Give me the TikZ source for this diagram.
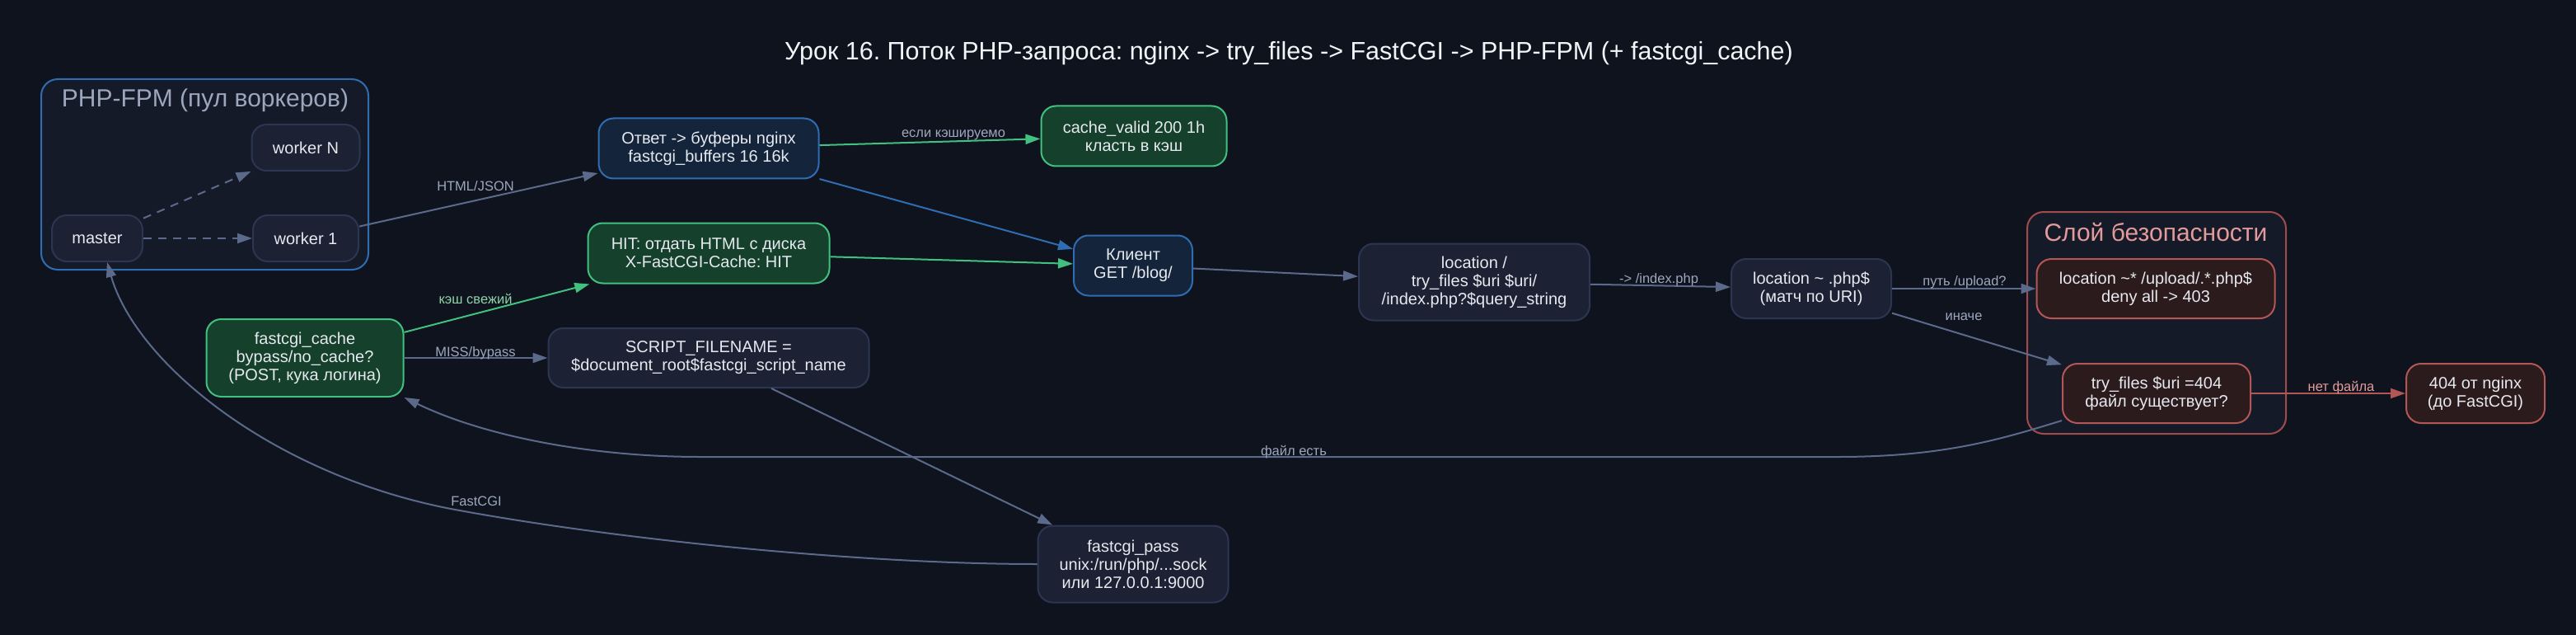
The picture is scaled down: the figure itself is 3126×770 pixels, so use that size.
\documentclass[tikz,border=0pt]{standalone}
\usepackage{fontspec}
\setmainfont{Liberation Sans}
\usetikzlibrary{arrows.meta,calc}
\frenchspacing
\definecolor{bg}{HTML}{0F131E}
\definecolor{clusterfill}{HTML}{151A28}
\definecolor{nodefill}{HTML}{1C2233}
\definecolor{nodeborder}{HTML}{2C3652}
\definecolor{bluefill}{HTML}{13243B}
\definecolor{blueborder}{HTML}{2F6DB3}
\definecolor{greenfill}{HTML}{15402B}
\definecolor{greenborder}{HTML}{41C07F}
\definecolor{redfill}{HTML}{2B1B1D}
\definecolor{redborder}{HTML}{B35656}
\definecolor{redcluster}{HTML}{A04C4C}
\definecolor{edgegray}{HTML}{5B6A8B}
\definecolor{lblgray}{HTML}{9CA7BE}
\definecolor{lblgreen}{HTML}{8FD3AA}
\definecolor{lblpink}{HTML}{E39A9A}
\definecolor{txt}{HTML}{E6E9EF}
\definecolor{titletxt}{HTML}{F2F4F8}
\tikzset{
  box/.style={draw=nodeborder, fill=nodefill, rounded corners=18pt, line width=2pt,
    align=center, text=txt, font=\fontsize{20}{22}\selectfont, inner sep=0pt},
  bluebox/.style={box, draw=blueborder, fill=bluefill},
  greenbox/.style={box, draw=greenborder, fill=greenfill},
  redbox/.style={box, draw=redborder, fill=redfill},
  cluster/.style={draw, fill=clusterfill, rounded corners=20pt, line width=2pt, inner sep=0pt},
  clusterlabel/.style={anchor=base, font=\fontsize{30}{35}\selectfont, inner sep=0pt},
  conn/.style={draw=edgegray, line width=2pt, -{Triangle[length=18pt,width=12pt]}},
  greenconn/.style={conn, draw=greenborder},
  blueconn/.style={conn, draw=blueborder},
  redconn/.style={conn, draw=redborder},
  dashconn/.style={conn, dash pattern=on 10pt off 8pt},
  lbl/.style={anchor=base, font=\fontsize{16.5}{19}\selectfont, text=lblgray, inner sep=0pt},
}
\begin{document}
\begin{tikzpicture}[x=1pt,y=-1pt]
\useasboundingbox (0,0) rectangle (3126,770);
\fill[bg] (0,0) rectangle (3126,770);

% title
\node[anchor=base, font=\fontsize{30.5}{36}\selectfont, text=titletxt, inner sep=0pt] (title) at (1564,73)
  {Урок 16. Поток PHP-запроса: nginx -> try\_files -> FastCGI -> PHP-FPM (+ fastcgi\_cache)};

% clusters
\node[cluster, draw=blueborder, minimum width=397pt, minimum height=231pt] (fpm) at (248.5,211.5) {};
\node[clusterlabel, text=lblgray] (fpmlabel) at (249,130) {PHP-FPM (пул воркеров)};
\node[cluster, draw=redcluster, minimum width=314pt, minimum height=269pt] (sec) at (2617,391.5) {};
\node[clusterlabel, text=lblpink] (seclabel) at (2616,292) {Слой безопасности};

% nodes
\node[box, minimum width=110pt, minimum height=56pt] (master) at (118,289) {master};
\node[box, minimum width=131pt, minimum height=56pt] (workerN) at (371,179) {worker N};
\node[box, minimum width=128pt, minimum height=56pt] (worker1) at (371,289) {worker 1};
\node[bluebox, minimum width=267pt, minimum height=73pt] (otvet) at (860,180) {Ответ -> буферы nginx\\fastcgi\_buffers 16 16k};
\node[greenbox, minimum width=225pt, minimum height=73pt] (cachevalid) at (1376,165) {cache\_valid 200 1h\\класть в кэш};
\node[greenbox, minimum width=293pt, minimum height=73pt] (hit) at (860,307) {HIT: отдать HTML с диска\\X-FastCGI-Cache: HIT};
\node[bluebox, minimum width=144pt, minimum height=73pt] (client) at (1375,322) {Клиент\\GET /blog/};
\node[box, minimum width=389pt, minimum height=72pt] (script) at (860,434) {SCRIPT\_FILENAME =\\\$document\_root\$fastcgi\_script\_name};
\node[greenbox, minimum width=239pt, minimum height=94pt] (fcache) at (370,434) {fastcgi\_cache\\bypass/no\_cache?\\(POST, кука логина)};
\node[box, minimum width=231pt, minimum height=93pt] (fpass) at (1375,684) {fastcgi\_pass\\unix:/run/php/...sock\\или 127.0.0.1:9000};
\node[box, minimum width=280pt, minimum height=93pt] (loc) at (1789,342) {location /\\try\_files \$uri \$uri/\\/index.php?\$query\_string};
\node[box, minimum width=194pt, minimum height=72pt] (locphp) at (2198,350) {location \textasciitilde{} .php\$\\(матч по URI)};
\node[redbox, minimum width=289pt, minimum height=72pt] (upload) at (2616,350) {location \textasciitilde* /upload/.*.php\$\\deny all -> 403};
\node[redbox, minimum width=228pt, minimum height=72pt] (tryf) at (2617,477) {try\_files \$uri =404\\файл существует?};
\node[redbox, minimum width=168pt, minimum height=72pt] (n404) at (3004,477) {404 от nginx\\(до FastCGI)};

% connectors
\draw[dashconn] (master) -- (worker1);
\draw[dashconn] (master) -- (workerN);
\draw[conn] (worker1) -- (otvet);
\draw[greenconn] (otvet) -- (cachevalid);
\draw[blueconn] (otvet) -- (client);
\draw[greenconn] (hit) -- (client);
\draw[conn] (client) -- (loc);
\draw[conn] (loc) -- (locphp);
\draw[conn] (locphp) -- (upload);
\draw[conn] (locphp) -- (tryf);
\draw[redconn] (tryf) -- (n404);
\draw[greenconn] (fcache) -- (hit);
\draw[conn] (fcache) -- (script);
\draw[conn] (script) -- (fpass);
\draw[conn] ([yshift=-33pt]tryf.west) .. controls (2430,532) and (2360,554) .. (2230,554)
  -- (850,554) .. controls (720,554) and (590,530) .. (fcache.south east);
\draw[conn] (fpass.west) .. controls (1050,684) and (750,655) .. (547,617)
  .. controls (330,575) and (165,440) .. ([xshift=12pt]master.south);

% connector labels
\node[lbl] (l1) at (577,232) {HTML/JSON};
\node[lbl, text=lblgreen] (l2) at (577,368) {кэш свежий};
\node[lbl] (l3) at (577,432) {MISS/bypass};
\node[lbl] (l4) at (578,613) {FastCGI};
\node[lbl] (l5) at (1157,167) {если кэшируемо};
\node[lbl] (l6) at (1570,552) {файл есть};
\node[lbl] (l7) at (2013,343) {-> /index.php};
\node[lbl] (l8) at (2384,346) {путь /upload?};
\node[lbl] (l9) at (2383,388) {иначе};
\node[lbl, text=lblpink] (l10) at (2841,474) {нет файла};
\end{tikzpicture}
\end{document}
